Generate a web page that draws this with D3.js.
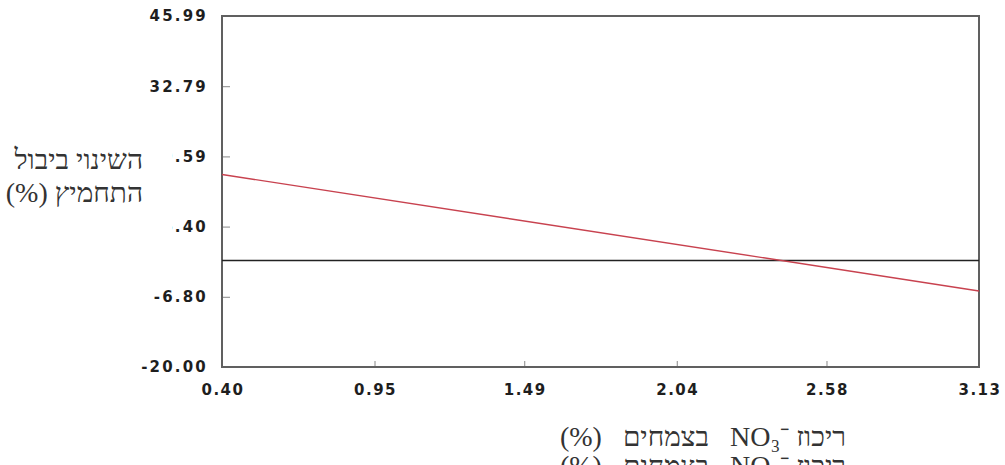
<!DOCTYPE html>
<html>
<head>
<meta charset="utf-8">
<script src="https://cdn.jsdelivr.net/npm/d3@7"></script>
<style>
  body { margin: 0; background: #fff; }
  svg { display: block; }
  .tick-label { font-family: "DejaVu Sans", Arial, sans-serif; font-weight: bold; font-size: 15px; fill: #1e1e1e; }
  .he { font-family: "Liberation Serif", "Times New Roman", serif; fill: #333; }
</style>
</head>
<body>
<div id="chart"></div>
<script>
// datos
const xTicks = [0.40, 0.95, 1.49, 2.04, 2.58, 3.13];
const yTicks = [-20.00, -6.80, 6.40, 19.59, 32.79, 45.99];
const lineX = [0.40, 3.13];
const lineY = [16.2, -5.7];
const zeroLine = 0;

const yTitle = ["השינוי ביבול", "התחמיץ (%)"];
// LRM para que el superindice quede a la derecha del 3
const xTitle = "ריכוז\u2005NO₃⁻\u200E בצמחים (%)";

const width = 1005, height = 465;
const margins = { top: 16, right: 26, bottom: 98, left: 222 };

const svg = d3.select("#chart").append("svg")
  .attr("width", width)
  .attr("height", height);

const x = d3.scaleLinear().domain([0.40, 3.13]).range([margins.left, width - margins.right]);
const y = d3.scaleLinear().domain([-20.00, 45.99]).range([height - margins.bottom, margins.top]);

// ejes con ticks hacia dentro
const yAxis = svg.append("g")
  .attr("transform", `translate(${margins.left},0)`)
  .call(d3.axisRight(y).tickValues(yTicks).tickSize(8).tickFormat(""));
yAxis.select(".domain").remove();
yAxis.selectAll("line").attr("stroke", "#888");

const xAxis = svg.append("g")
  .attr("transform", `translate(0,${height - margins.bottom})`)
  .call(d3.axisTop(x).tickValues(xTicks).tickSize(6).tickFormat(""));
xAxis.select(".domain").remove();
xAxis.selectAll("line").attr("stroke", "#888");

// etiquetas
svg.append("g").selectAll("text")
  .data(yTicks)
  .join("text")
  .attr("class", "tick-label")
  .attr("letter-spacing", 2.2)
  .attr("x", 208)
  .attr("y", d => y(d))
  .attr("dy", "0.36em")
  .attr("text-anchor", "end")
  .text(d => d.toFixed(2));

svg.append("g").selectAll("text")
  .data(xTicks)
  .join("text")
  .attr("class", "tick-label")
  .attr("letter-spacing", 1.5)
  .attr("x", d => x(d) + 1)
  .attr("y", 395)
  .attr("text-anchor", "middle")
  .text(d => d.toFixed(2));

// marco
svg.append("rect")
  .attr("x", x(0.40))
  .attr("y", y(45.99))
  .attr("width", x(3.13) - x(0.40))
  .attr("height", y(-20.00) - y(45.99))
  .attr("fill", "none")
  .attr("stroke", "#606060")
  .attr("stroke-width", 2);

// linea cero
svg.append("line")
  .attr("x1", x(0.40)).attr("x2", x(3.13))
  .attr("y1", y(zeroLine)).attr("y2", y(zeroLine))
  .attr("stroke", "#222")
  .attr("stroke-width", 1.5);

// linea de tendencia
const line = d3.line().x(d => x(d[0])).y(d => y(d[1]));
svg.append("path")
  .datum(lineX.map((v, i) => [v, lineY[i]]))
  .attr("d", line)
  .attr("fill", "none")
  .attr("stroke", "#c8424f")
  .attr("stroke-width", 1.4);

// titulo eje y (fondo blanco tapa parte de las etiquetas)
svg.append("rect")
  .attr("x", 0).attr("y", 140)
  .attr("width", 172).attr("height", 95)
  .attr("fill", "#fff");

svg.append("g").selectAll("text")
  .data(yTitle)
  .join("text")
  .attr("class", "he")
  .attr("direction", "rtl")
  .attr("x", 143)
  .attr("y", (d, i) => 169 + i * 33)
  .attr("font-size", 28)
  .text(d => d);

// titulo eje x
svg.append("text")
  .attr("class", "he")
  .attr("direction", "rtl")
  .attr("x", 846)
  .attr("y", 446)
  .attr("font-size", 28)
  .attr("word-spacing", 14)
  .text(xTitle);

// copia cortada en el borde inferior
svg.append("text")
  .attr("class", "he")
  .attr("direction", "rtl")
  .attr("x", 846)
  .attr("y", 475)
  .attr("font-size", 28)
  .attr("word-spacing", 14)
  .attr("fill", "#999")
  .text(xTitle);
</script>
</body>
</html>
